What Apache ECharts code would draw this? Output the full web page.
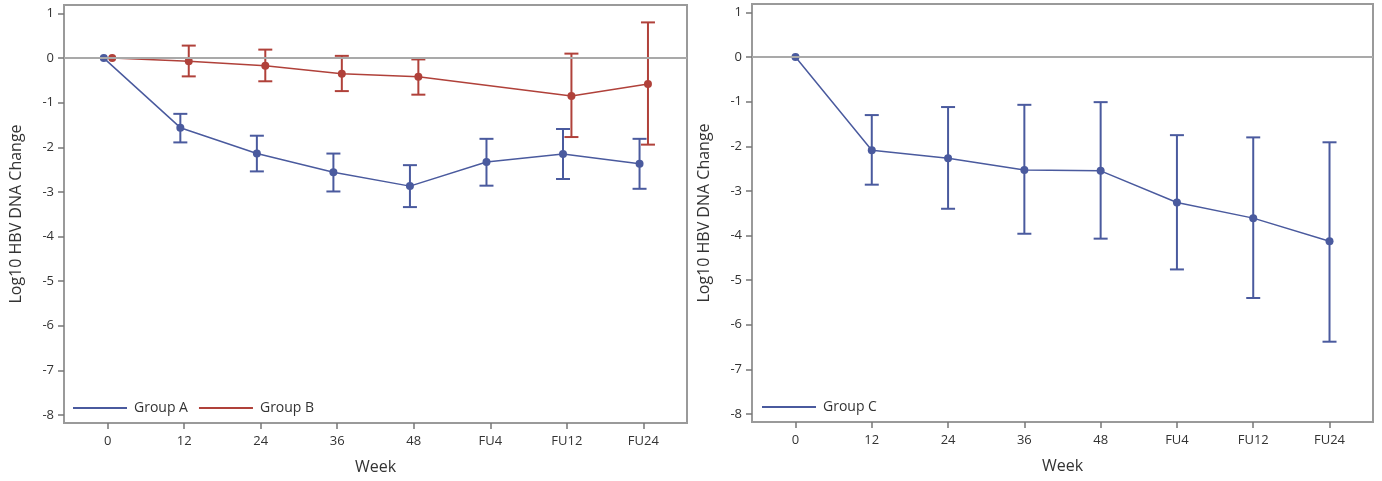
<!DOCTYPE html>
<html>
<head>
<meta charset="utf-8">
<script src="https://cdn.jsdelivr.net/npm/echarts@6/dist/echarts.min.js"></script>
<style>
	html, body { margin: 0; padding: 0; background: #fff; }
	#chartId { width: 1382px; height: 481px; }
</style>
</head>
<body>
<div id="chartId"></div>
<script>
var weeks = ['0', '12', '24', '36', '48', 'FU4', 'FU12', 'FU24'];
var yTicks = [-8, -7, -6, -5, -4, -3, -2, -1, 0, 1];

var groupAMean = [0, -1.56, -2.14, -2.56, -2.87, -2.33, -2.15, -2.37];
var groupALow = [null, -1.89, -2.54, -2.99, -3.34, -2.86, -2.71, -2.93];
var groupAHigh = [null, -1.25, -1.74, -2.14, -2.40, -1.81, -1.59, -1.81];

var groupBMean = [0, -0.07, -0.17, -0.35, -0.42, null, -0.85, -0.58];
var groupBLow = [null, -0.41, -0.52, -0.74, -0.82, null, -1.77, -1.94];
var groupBHigh = [null, 0.28, 0.19, 0.05, -0.03, null, 0.10, 0.80];

var groupCMean = [0, -2.09, -2.27, -2.53, -2.55, -3.26, -3.61, -4.13];
var groupCLow = [null, -2.86, -3.40, -3.96, -4.07, -4.76, -5.40, -6.38];
var groupCHigh = [null, -1.30, -1.12, -1.07, -1.01, -1.75, -1.80, -1.91];

var blue = '#4a5a9e';
var red = '#b0413a';
var frameGray = '#9a9a9a';
var textColor = '#333';
var fontName = 'Open Sans';

var chart = {
	init: function(){
		var myChart = echarts.init(document.getElementById('chartId'), null, {renderer: 'canvas'});
		myChart.setOption(chart.getOption());
	},
	// 均值折线
	lineData: function(mean, shift){
		var res = [];
		for (var i = 0; i < mean.length; i++) {
			if (mean[i] == null) continue;
			res.push([i + shift, mean[i]]);
		}
		return res;
	},
	// 误差线
	errData: function(low, high, shift){
		var res = [];
		for (var i = 0; i < low.length; i++) {
			if (low[i] == null) continue;
			res.push([i + shift, low[i], high[i]]);
		}
		return res;
	},
	renderErr: function(color){
		return function(params, api){
			var lo = api.coord([api.value(0), api.value(1)]);
			var hi = api.coord([api.value(0), api.value(2)]);
			var w = 7;
			var style = {stroke: color, lineWidth: 2};
			return {
				type: 'group',
				children: [
					{type: 'line', shape: {x1: lo[0], y1: lo[1], x2: hi[0], y2: hi[1]}, style: style},
					{type: 'line', shape: {x1: lo[0] - w, y1: lo[1], x2: lo[0] + w, y2: lo[1]}, style: style},
					{type: 'line', shape: {x1: hi[0] - w, y1: hi[1], x2: hi[0] + w, y2: hi[1]}, style: style}
				]
			};
		};
	},
	xAxis: function(idx){
		return {
			type: 'value',
			gridIndex: idx,
			min: -0.57,
			max: 7.57,
			splitLine: {show: false},
			axisLine: {show: false, onZero: false},
			axisTick: {show: true, length: 6, customValues: [0, 1, 2, 3, 4, 5, 6, 7], lineStyle: {color: '#777', width: 1.5}},
			axisLabel: {
				customValues: [0, 1, 2, 3, 4, 5, 6, 7],
				margin: 12,
				fontSize: 13,
				fontFamily: fontName,
				color: textColor,
				formatter: function(v){ return weeks[Math.round(v)]; }
			},
			name: 'Week',
			nameLocation: 'middle',
			nameGap: 36,
			nameTextStyle: {fontSize: 16, fontFamily: fontName, color: textColor}
		};
	},
	yAxis: function(idx){
		return {
			type: 'value',
			gridIndex: idx,
			min: -8.18,
			max: 1.19,
			splitLine: {show: false},
			axisLine: {show: false, onZero: false},
			axisTick: {show: true, length: 6, customValues: yTicks, lineStyle: {color: '#777', width: 1.5}},
			axisLabel: {
				customValues: yTicks,
				margin: 10,
				fontSize: 13,
				fontFamily: fontName,
				color: textColor
			},
			name: 'Log10 HBV DNA Change',
			nameLocation: 'middle',
			nameGap: 40,
			nameTextStyle: {fontSize: 16, fontFamily: fontName, color: textColor}
		};
	},
	lineSeries: function(name, idx, mean, shift, color){
		return {
			name: name,
			type: 'line',
			xAxisIndex: idx,
			yAxisIndex: idx,
			data: chart.lineData(mean, shift),
			symbol: 'circle',
			symbolSize: 8,
			lineStyle: {color: color, width: 1.5},
			itemStyle: {color: color},
			z: 4,
			animation: false
		};
	},
	errSeries: function(name, idx, low, high, shift, color){
		return {
			name: name,
			type: 'custom',
			xAxisIndex: idx,
			yAxisIndex: idx,
			data: chart.errData(low, high, shift),
			renderItem: chart.renderErr(color),
			encode: {x: 0, y: [1, 2]},
			z: 3,
			animation: false
		};
	},
	zeroLine: function(idx){
		return {
			name: 'zero' + idx,
			type: 'line',
			xAxisIndex: idx,
			yAxisIndex: idx,
			data: [],
			markLine: {
				silent: true,
				symbol: 'none',
				label: {show: false},
				lineStyle: {color: '#a9a9a9', width: 2, type: 'solid'},
				data: [{yAxis: 0}]
			},
			z: 1,
			animation: false
		};
	},
	getOption: function(){
		var legendBase = {
			orient: 'horizontal',
			icon: 'rect',
			itemWidth: 54,
			itemHeight: 2,
			itemGap: 11,
			padding: 0,
			textStyle: {fontSize: 14, fontFamily: fontName, color: textColor, padding: [0, 0, 0, 2]}
		};
		option = {
			backgroundColor: '#fff',
			animation: false,
			grid: [
				{left: 64, top: 5, width: 623, height: 418, show: true, borderColor: frameGray, borderWidth: 2, backgroundColor: 'transparent'},
				{left: 752, top: 4, width: 621, height: 418, show: true, borderColor: frameGray, borderWidth: 2, backgroundColor: 'transparent'}
			],
			legend: [
				echarts.util.merge({left: 73, top: 401, data: ['Group A', 'Group B']}, legendBase, true),
				echarts.util.merge({left: 762, top: 400, data: ['Group C']}, legendBase, true)
			],
			xAxis: [chart.xAxis(0), chart.xAxis(1)],
			yAxis: [chart.yAxis(0), chart.yAxis(1)],
			series: [
				chart.zeroLine(0),
				chart.zeroLine(1),
				chart.errSeries('A err', 0, groupALow, groupAHigh, -0.05, blue),
				chart.errSeries('B err', 0, groupBLow, groupBHigh, 0.06, red),
				chart.errSeries('C err', 1, groupCLow, groupCHigh, 0, blue),
				chart.lineSeries('Group A', 0, groupAMean, -0.05, blue),
				chart.lineSeries('Group B', 0, groupBMean, 0.06, red),
				chart.lineSeries('Group C', 1, groupCMean, 0, blue)
			]
		};
		return option;
	}
};

chart.init();
</script>
</body>
</html>
